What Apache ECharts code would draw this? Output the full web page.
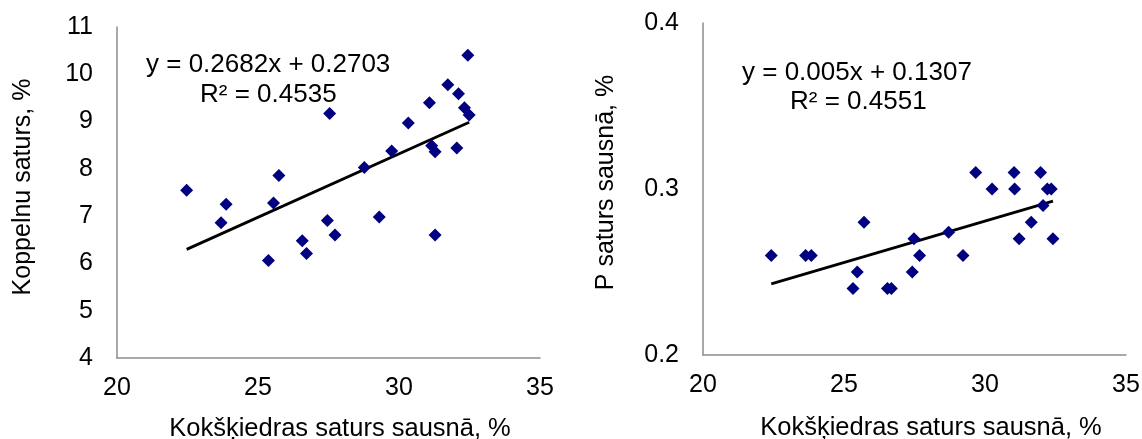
<!DOCTYPE html>
<html>
<head>
<meta charset="utf-8">
<title>Kokšķiedras saturs</title>
<script src="https://cdn.jsdelivr.net/npm/echarts@6/dist/echarts.min.js"></script>
<style>
  html, body { margin: 0; padding: 0; background: #fff; }
  #chart { width: 1142px; height: 439px; }
</style>
</head>
<body>
<div id="chart"></div>
<script>
  /*---------------数据----------------*/
  // kreisais grafiks: Koppelnu saturs
  var fiberLeft = [22.47, 23.69, 23.87, 25.37, 25.55, 25.74, 26.57, 26.72, 27.46, 27.54, 27.73, 28.77, 29.30,
    29.74, 30.33, 31.08, 31.16, 31.28, 31.28, 31.73, 32.05, 32.11, 32.32, 32.44, 32.49];
  var koppelnu = [7.55, 6.86, 7.25, 6.06, 7.28, 7.86, 6.48, 6.21, 6.91, 9.17, 6.60, 8.03, 6.98,
    8.38, 8.97, 9.40, 8.49, 8.36, 6.60, 9.78, 8.44, 9.59, 9.29, 10.40, 9.14];

  // labais grafiks: P saturs
  var fiberRight = [22.42, 23.64, 23.84, 25.32, 25.47, 25.71, 26.54, 26.68, 27.42, 27.48, 27.68, 28.71, 29.22,
    29.67, 30.25, 31.03, 31.05, 31.21, 31.64, 31.97, 32.06, 32.21, 32.35, 32.41];
  var phosphorus = [0.26, 0.26, 0.26, 0.24, 0.25, 0.28, 0.24, 0.24, 0.25, 0.27, 0.26, 0.274, 0.26,
    0.31, 0.30, 0.31, 0.30, 0.27, 0.28, 0.31, 0.29, 0.30, 0.30, 0.27];

  // trend lines (Excel)
  var trendLeft = {slope: 0.2682, intercept: 0.2703, label: 'y = 0.2682x + 0.2703', r2: 'R² = 0.4535'};
  var trendRight = {slope: 0.005, intercept: 0.1307, label: 'y = 0.005x + 0.1307', r2: 'R² = 0.4551'};

  var xTicks = [20, 25, 30, 35];
  var yTicksLeft = [4, 5, 6, 7, 8, 9, 10, 11];
  var yTicksRight = [0.2, 0.3, 0.4];

  var FONT = '"Liberation Sans", Arial, sans-serif';
  var AXIS_COLOR = '#8c8c8c';
  var DOT_COLOR = '#000080';

  function zip(xs, ys) {
    var out = [];
    for (var i = 0; i < xs.length; i++) {
      out.push([xs[i], ys[i]]);
    }
    return out;
  }

  /*趋势线两端*/
  function trendPoints(xs, t) {
    var lo = Math.min.apply(null, xs);
    var hi = Math.max.apply(null, xs);
    return [[lo, t.slope * lo + t.intercept], [hi, t.slope * hi + t.intercept]];
  }

  function xAxisOf(gridIndex, padLeft) {
    return {
      gridIndex: gridIndex,
      type: 'value',
      min: xTicks[0],
      max: xTicks[xTicks.length - 1],
      interval: 5,
      name: 'Kokšķiedras saturs sausnā, %',
      nameLocation: 'middle',
      nameGap: gridIndex === 0 ? 58 : 60,
      nameTextStyle: {fontFamily: FONT, fontSize: 25.5, color: '#000', padding: [0, 0, 0, padLeft]},
      axisLine: {show: true, lineStyle: {color: AXIS_COLOR, width: 1.5}},
      axisTick: {show: false},
      splitLine: {show: false},
      axisLabel: {fontFamily: FONT, fontSize: 25, color: '#000', margin: 18}
    };
  }

  function yAxisOf(gridIndex, ticks, name, gap, digits, pad) {
    return {
      gridIndex: gridIndex,
      type: 'value',
      min: ticks[0],
      max: ticks[ticks.length - 1],
      interval: digits ? 0.1 : 1,
      name: name,
      nameLocation: 'middle',
      nameGap: gap,
      nameRotate: 90,
      nameTextStyle: {fontFamily: FONT, fontSize: 25, color: '#000', padding: [0, 0, 0, pad]},
      axisLine: {show: true, lineStyle: {color: AXIS_COLOR, width: 1.5}},
      axisTick: {show: false},
      splitLine: {show: false},
      axisLabel: {
        fontFamily: FONT, fontSize: 25, color: '#000', margin: 24,
        formatter: function (v) {
          return digits ? v.toFixed(digits) : String(v);
        }
      }
    };
  }

  function dots(i, data) {
    return {
      type: 'scatter',
      xAxisIndex: i,
      yAxisIndex: i,
      data: data,
      symbol: 'diamond',
      symbolSize: 13,
      itemStyle: {color: DOT_COLOR, opacity: 1},
      z: 3
    };
  }

  function trend(i, data) {
    return {
      type: 'line',
      xAxisIndex: i,
      yAxisIndex: i,
      data: data,
      symbol: 'none',
      lineStyle: {color: '#000', width: 2.8},
      z: 2
    };
  }

  function eqText(x, y, text) {
    return {
      type: 'text',
      left: x,
      top: y,
      style: {text: text, font: '26px ' + FONT, fill: '#000'}
    };
  }

  var chart = echarts.init(document.getElementById('chart'));
  var option = {
    backgroundColor: '#fff',
    animation: false,
    grid: [
      {left: 117, top: 27, width: 423, height: 331, containLabel: false, outerBoundsMode: 'none'},
      {left: 703, top: 23, width: 423, height: 332, containLabel: false, outerBoundsMode: 'none'}
    ],
    xAxis: [xAxisOf(0, 23), xAxisOf(1, 33)],
    yAxis: [
      yAxisOf(0, yTicksLeft, 'Koppelnu saturs, %', 81, 0, 11),
      yAxisOf(1, yTicksRight, 'P saturs sausnā, %', 84, 1, 13)
    ],
    series: [
      trend(0, trendPoints(fiberLeft, trendLeft)),
      dots(0, zip(fiberLeft, koppelnu)),
      trend(1, trendPoints(fiberRight, trendRight)),
      dots(1, zip(fiberRight, phosphorus))
    ],
    graphic: [
      eqText(146, 52, trendLeft.label),
      eqText(200, 82, trendLeft.r2),
      eqText(742, 60, trendRight.label),
      eqText(790, 89, trendRight.r2)
    ]
  };
  chart.setOption(option);
</script>
</body>
</html>
